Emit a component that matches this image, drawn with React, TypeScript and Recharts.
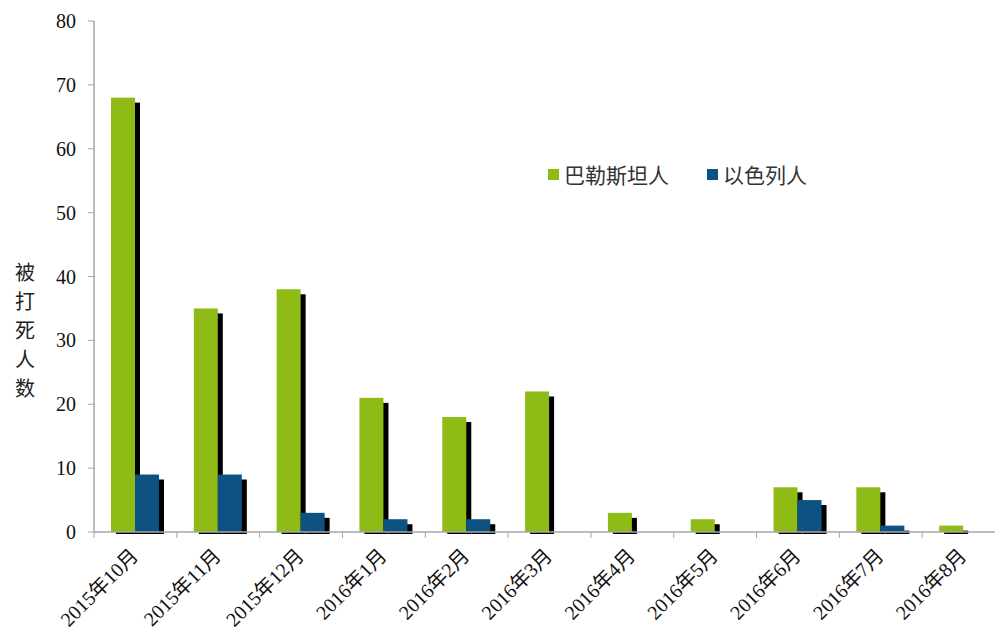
import React from "react";
import { Bar, BarChart, Legend, XAxis, YAxis } from "recharts";

// Monthly deaths, Oct 2015 – Aug 2016.
const MONTHS = [
  "2015年10月",
  "2015年11月",
  "2015年12月",
  "2016年1月",
  "2016年2月",
  "2016年3月",
  "2016年4月",
  "2016年5月",
  "2016年6月",
  "2016年7月",
  "2016年8月",
];
const PALESTINIANS = [68, 35, 38, 21, 18, 22, 3, 2, 7, 7, 1];
const ISRAELIS = [9, 9, 3, 2, 2, 0, 0, 0, 5, 1, 0];
const Y_TICKS = [0, 10, 20, 30, 40, 50, 60, 70, 80];

const GREEN = "#8fbb17";
const BLUE = "#0e5283";
const AXIS = "#a6a6a6";
const SERIF = "'Liberation Serif', 'Times New Roman', 'Noto Sans CJK SC', serif";
const SANS = "'Noto Sans CJK SC', 'Noto Sans', sans-serif";

const data = MONTHS.map((month, i) => ({
  month,
  pal: PALESTINIANS[i],
  isr: ISRAELIS[i],
}));

// bar with a black drop shadow offset down-right
function ShadowBar(props: any) {
  const { x, y, width, height, fill } = props;
  if (!height || height <= 0) return null;
  return (
    <g>
      <rect x={x + 5} y={y + 5} width={width} height={Math.max(height - 3, 0)} fill="#000" />
      <rect x={x} y={y} width={width} height={height} fill={fill} />
    </g>
  );
}

function MonthTick(props: any) {
  const { x, y, payload } = props;
  const half = payload?.offset || 41.4;
  return (
    <g>
      <line x1={x - half} x2={x - half} y1={y} y2={y + 6} stroke={AXIS} />
      <text
        transform={`translate(${x + 4},${y + 25}) rotate(-45)`}
        textAnchor="end"
        fontFamily={SERIF}
        fontSize={20}
        fill="#111"
      >
        {payload.value}
      </text>
    </g>
  );
}

function LegendBox() {
  const items = [
    { label: "巴勒斯坦人", color: GREEN },
    { label: "以色列人", color: BLUE },
  ];
  return (
    <div style={{ display: "flex", alignItems: "center", fontFamily: SANS, fontSize: 21, color: "#333" }}>
      {items.map((it) => (
        <div key={it.label} style={{ display: "flex", alignItems: "center", marginRight: 38 }}>
          <span style={{ width: 11, height: 11, background: it.color, marginRight: 5, display: "inline-block" }} />
          <span>{it.label}</span>
        </div>
      ))}
    </div>
  );
}

export default function App() {
  return (
    <div
      style={{
        position: "absolute",
        left: 0,
        top: 0,
        width: 995,
        height: 627,
        overflow: "hidden",
        background: "#fff",
      }}
    >
      <BarChart
        width={1005}
        height={627}
        data={data}
        margin={{ top: 21, right: 0, left: 0, bottom: 0 }}
        barGap={0}
        barSize={24}
      >
        <XAxis
          dataKey="month"
          height={95}
          interval={0}
          tickLine={false}
          tickSize={0}
          tickMargin={0}
          axisLine={{ stroke: AXIS, strokeWidth: 1.5 }}
          tick={<MonthTick />}
        />
        <YAxis
          width={94}
          domain={[0, 80]}
          ticks={Y_TICKS}
          interval={0}
          tickSize={6}
          tickMargin={12}
          axisLine={{ stroke: AXIS, strokeWidth: 1.5 }}
          tickLine={{ stroke: AXIS }}
          tick={{ fontFamily: SERIF, fontSize: 20, fill: "#111" }}
        />
        <Legend
          layout="horizontal"
          verticalAlign="middle"
          align="center"
          wrapperStyle={{ position: "absolute", left: 548, top: 159, width: "auto" }}
          content={() => <LegendBox />}
        />
        <Bar dataKey="pal" name="巴勒斯坦人" fill={GREEN} shape={<ShadowBar />} isAnimationActive={false} />
        <Bar dataKey="isr" name="以色列人" fill={BLUE} shape={<ShadowBar />} isAnimationActive={false} />
      </BarChart>
      <div
        style={{
          position: "absolute",
          left: 13,
          top: 257,
          width: 24,
          fontFamily: SANS,
          fontSize: 20,
          lineHeight: "29px",
          color: "#222",
          textAlign: "center",
        }}
      >
        被<br />打<br />死<br />人<br />数
      </div>
    </div>
  );
}
